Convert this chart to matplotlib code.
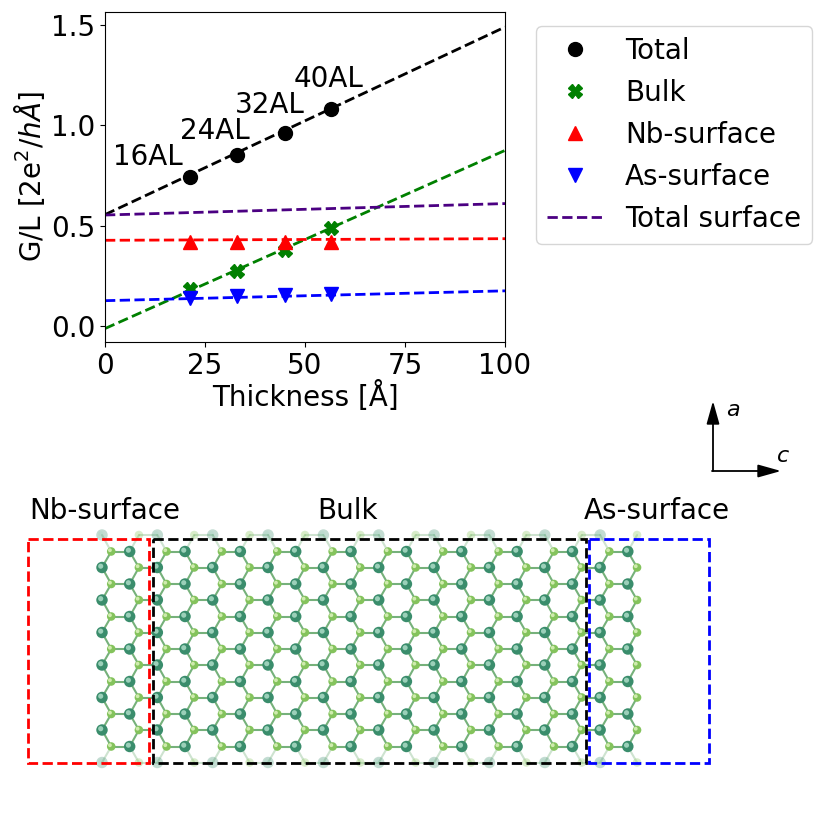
"""
Conductance per length vs slab thickness, with a sketch of the slab below.
"""

import numpy as np
import matplotlib
matplotlib.use("Agg")
import matplotlib.pyplot as plt
from matplotlib.patches import Rectangle

# ---- data ----
thickness = [21.3, 33.1, 44.9, 56.6]
layers = ["16AL", "24AL", "32AL", "40AL"]
g_total = [0.744, 0.851, 0.962, 1.083]
g_bulk = [0.183, 0.276, 0.379, 0.490]
g_nb = [0.420, 0.420, 0.420, 0.420]
g_as = [0.140, 0.148, 0.152, 0.160]

# linear fits (intercept, slope)
fit_total = (0.555, 0.00935)
fit_bulk = (-0.013, 0.00888)
fit_nb = (0.427, 0.00008)
fit_as = (0.126, 0.00049)
fit_surface = (fit_nb[0] + fit_as[0], fit_nb[1] + fit_as[1])

# label anchor positions (data coords) for the layer counts
label_x = [10.75, 27.5, 41.25, 56.0]
label_y = [0.801, 0.931, 1.060, 1.190]

FS = 20
W, H = 831, 814

fig = plt.figure(figsize=(W / 100, H / 100), dpi=100)

# background axes in pixel coordinates for the structure sketch
bg = fig.add_axes([0, 0, 1, 1])
bg.set_xlim(0, W)
bg.set_ylim(H, 0)
bg.axis("off")

# ---- top plot ----
ax = fig.add_axes([105 / W, 1 - 342 / H, 400 / W, 330 / H])
ms = 10
ax.plot(thickness, g_total, "o", color="black", ms=ms, zorder=3, label="Total")
ax.plot(thickness, g_bulk, "X", color="green", ms=ms, zorder=3, label="Bulk")
ax.plot(thickness, g_nb, "^", color="red", ms=ms, zorder=3, label="Nb-surface")
ax.plot(thickness, g_as, "v", color="blue", ms=ms, zorder=3, label="As-surface")

xs = np.linspace(0, 100, 50)
for (b, m), c in [(fit_total, "black"), (fit_bulk, "green"),
                  (fit_nb, "red"), (fit_as, "blue")]:
    ax.plot(xs, b + m * xs, "--", color=c, lw=2, zorder=2)
ax.plot(xs, fit_surface[0] + fit_surface[1] * xs, "--", color="indigo", lw=2,
        zorder=2, label="Total surface")

for lx, ly, t in zip(label_x, label_y, layers):
    ax.text(lx, ly, t, ha="center", va="baseline", fontsize=FS)

ax.set_xlim(0, 100)
ax.set_ylim(-0.08, 1.565)
ax.set_xticks([0, 25, 50, 75, 100])
ax.set_yticks([0.0, 0.5, 1.0, 1.5])
ax.tick_params(labelsize=FS)
ax.set_xlabel("Thickness [Å]", fontsize=FS, labelpad=1)
ax.set_ylabel(r"G/L [2e$^2$/$h\AA$]", fontsize=FS, labelpad=3)

ax.legend(loc="upper left", bbox_to_anchor=(536 / W, 1 - 26 / H),
          bbox_transform=fig.transFigure, borderaxespad=0, fontsize=FS)

# ---- axis arrows ----
arrow = dict(arrowstyle="-|>,head_length=1.0,head_width=0.28", color="black",
             lw=1.3, mutation_scale=14, shrinkA=0, shrinkB=0)
bg.annotate("", xy=(713, 401), xytext=(713, 471), arrowprops=arrow)
bg.annotate("", xy=(781, 471), xytext=(712, 471), arrowprops=arrow)
bg.text(726, 410, r"$a$", fontsize=16, va="center")
bg.text(776, 456, r"$c$", fontsize=16, va="center")

# ---- slab sketch (honeycomb approximation) ----
s = 18.45
hrow = 32.5
x0 = 102
dark, light = "#3a8d6c", "#84c35c"
atoms = []  # (x, y, is_dark)
for p in range(10):
    base = x0 + 3 * s * p
    for dx, is_dark, row in [(0, True, "B"), (s / 2, False, "A"),
                             (1.5 * s, True, "A"), (2 * s, False, "B")]:
        if row == "A":
            ys = [551.5 + hrow * k for k in range(7)]
        else:
            ys = [535 + hrow * k for k in range(8)]
        for y in ys:
            atoms.append((base + dx, y, is_dark))

pts = np.array([(a[0], a[1]) for a in atoms])
kind = np.array([a[2] for a in atoms])
for i in range(len(pts)):
    d = np.hypot(*(pts[i + 1:] - pts[i]).T)
    for j in np.nonzero((d > 0.8 * s) & (d < 1.2 * s))[0] + i + 1:
        if kind[i] == kind[j]:
            continue
        faded = min(pts[i, 1], pts[j, 1]) < 540 or max(pts[i, 1], pts[j, 1]) > 755
        bg.plot(pts[[i, j], 0], pts[[i, j], 1], color="#5ea464", lw=1.5,
                alpha=0.3 if faded else 0.85, zorder=1, solid_capstyle="round")

fade = (pts[:, 1] < 540) | (pts[:, 1] > 755)
for mask_kind, col, size, hl in [(True, dark, 68, "#a6d8c2"), (False, light, 38, "#d8f0b8")]:
    for fm, al in [(fade, 0.3), (~fade, 1.0)]:
        m = (kind == mask_kind) & fm
        bg.scatter(pts[m, 0], pts[m, 1], s=size, color=col, alpha=al,
                   edgecolors="none", zorder=2)
        bg.scatter(pts[m, 0] - 1.3, pts[m, 1] - 1.3, s=size * 0.2, color=hl,
                   alpha=al * 0.9, edgecolors="none", zorder=2.1)

# region boxes
for (x1, x2), c in [((28, 149), "red"), ((153, 586), "black"), ((589, 709), "blue")]:
    bg.add_patch(Rectangle((x1, 539), x2 - x1, 224, fill=False, ls="--",
                           lw=2, edgecolor=c, zorder=3))

bg.text(105, 511, "Nb-surface", fontsize=FS, ha="center", va="center")
bg.text(348, 511, "Bulk", fontsize=FS, ha="center", va="center")
bg.text(657, 511, "As-surface", fontsize=FS, ha="center", va="center")

fig.savefig("out.png", dpi=100)
plt.close(fig)
